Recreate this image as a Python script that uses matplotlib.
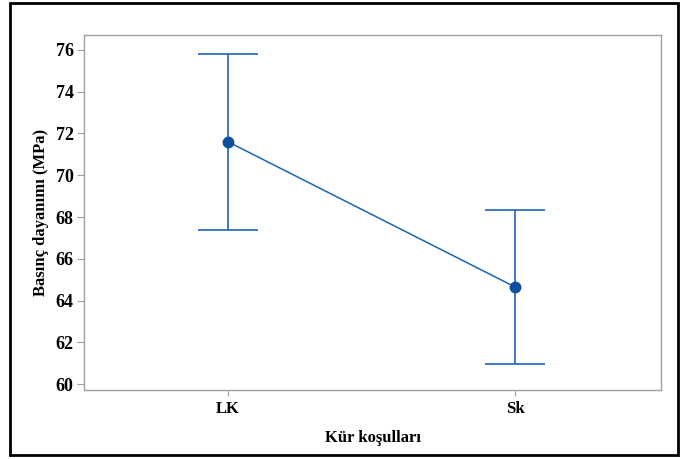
import matplotlib
matplotlib.use("Agg")
import matplotlib.pyplot as plt
from matplotlib.patches import Rectangle

categories = ["LK", "Sk"]
means = [71.6, 64.65]
lower = [67.4, 60.95]
upper = [75.8, 68.35]

_BLUE = "#1F63B5"
_DOT = "#0B4F9E"
_SPINE = "#A0A0A0"

plt.rcParams["font.family"] = ["Liberation Serif", "DejaVu Serif"]
plt.rcParams["font.weight"] = "bold"

fig = plt.figure(figsize=(6.83, 4.59), dpi=100)
ax = fig.add_axes([0.123, 0.150, 0.845, 0.774])

x = list(range(len(categories)))
yerr = [[m - l for m, l in zip(means, lower)],
        [u - m for m, u in zip(means, upper)]]

ax.errorbar(x, means, yerr=yerr, fmt="none", ecolor=_BLUE,
            elinewidth=1.2, capsize=21.6, capthick=1.2, zorder=2)
ax.plot(x, means, color=_BLUE, linewidth=1.1, zorder=3)
ax.plot(x, means, "o", color=_DOT, markersize=7.5, zorder=4)

ax.set_xlim(-0.502, 1.509)
ax.set_ylim(59.71, 76.72)
ax.set_xticks(x)
ax.set_xticklabels(categories)
ax.set_yticks(range(60, 77, 2))

ax.tick_params(axis="x", labelsize=12, color=_SPINE, length=4)
ax.tick_params(axis="y", labelsize=13, color=_SPINE, length=5, pad=2.5)
for lab in ax.get_xticklabels() + ax.get_yticklabels():
    lab.set_fontweight("bold")
for spine in ax.spines.values():
    spine.set_color(_SPINE)
    spine.set_linewidth(1.0)

ax.set_xlabel("Kür koşulları", fontsize=12, fontweight="bold", labelpad=10)
ax.set_ylabel("Basınç dayanımı (MPa)", fontsize=12, fontweight="bold", labelpad=5)

# black border round the whole figure
fig.patches.append(Rectangle((0.015, 0.008), 0.978, 0.985, transform=fig.transFigure,
                             fill=False, edgecolor="black", linewidth=2.0))

fig.savefig("out.png", dpi=100, facecolor="white")
